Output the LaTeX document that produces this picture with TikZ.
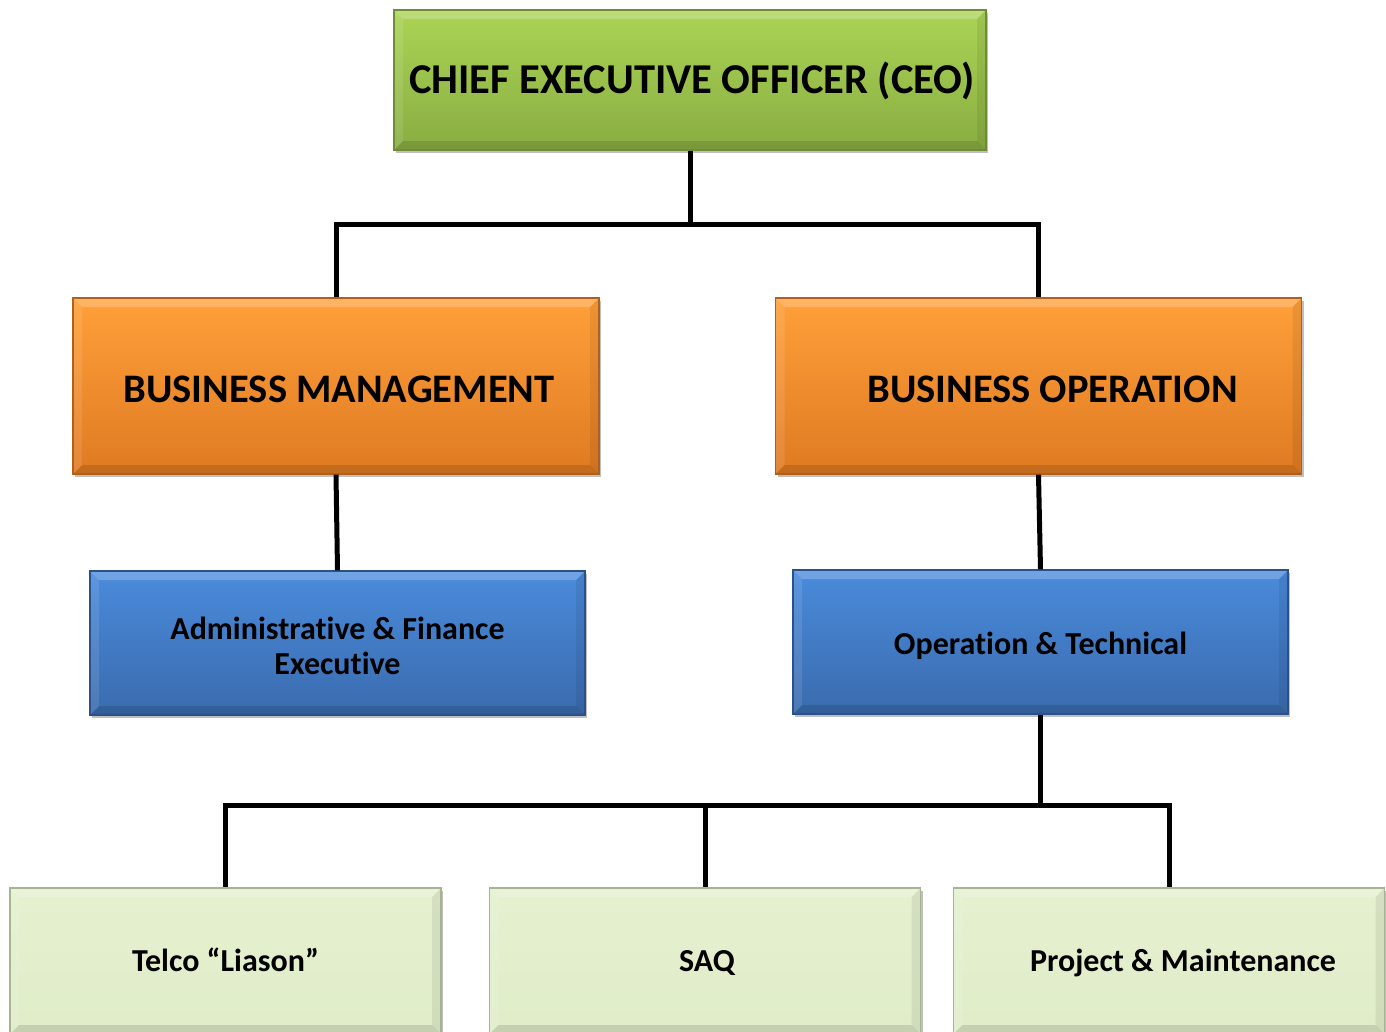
\documentclass[tikz,border=0pt]{standalone}
\usepackage{fontspec}
\setmainfont{Carlito}[Ligatures={NoCommon}]
\usetikzlibrary{shadows,calc}
\definecolor{greenT}{HTML}{ABD455}
\definecolor{greenB}{HTML}{89AD42}
\definecolor{greenD}{HTML}{6E8B36}
\definecolor{orangeT}{HTML}{FFA03A}
\definecolor{orangeB}{HTML}{DF7A22}
\definecolor{orangeD}{HTML}{B0601B}
\definecolor{blueT}{HTML}{4A8BDB}
\definecolor{blueB}{HTML}{3A6BAE}
\definecolor{blueD}{HTML}{2C5189}
\definecolor{lightT}{HTML}{E5F0D0}
\definecolor{lightB}{HTML}{E0EDC8}
\definecolor{lightD}{HTML}{A8B48F}
\tikzset{
  bevel/.style={path picture={
    \fill[white,opacity=0.22] (path picture bounding box.north west) -- (path picture bounding box.north east) -- ++(-9pt,-9pt) -- ($(path picture bounding box.north west)+(9pt,-9pt)$) -- cycle;
    \fill[white,opacity=0.10] (path picture bounding box.north west) -- (path picture bounding box.south west) -- ++(9pt,9pt) -- ($(path picture bounding box.north west)+(9pt,-9pt)$) -- cycle;
    \fill[black,opacity=0.12] (path picture bounding box.south west) -- (path picture bounding box.south east) -- ++(-9pt,9pt) -- ($(path picture bounding box.south west)+(9pt,9pt)$) -- cycle;
    \fill[black,opacity=0.07] (path picture bounding box.north east) -- (path picture bounding box.south east) -- ++(-9pt,9pt) -- ($(path picture bounding box.north east)+(-9pt,-9pt)$) -- cycle;
  }},
  orgbox/.style n args={3}{rectangle, inner sep=0pt, align=center, text=black,
    top color=#1, bottom color=#2, draw=#3, line width=1.2pt, bevel,
    drop shadow={shadow xshift=2pt, shadow yshift=-3pt, opacity=0.25, fill=black}},
  ceobox/.style={orgbox={greenT}{greenB}{greenD}, minimum width=592pt, minimum height=140pt,
    font=\fontsize{42.5}{50}\selectfont\bfseries, text height=36.4pt, text depth=9pt},
  mgrbox/.style={orgbox={orangeT}{orangeB}{orangeD}, minimum width=526pt, minimum height=176pt,
    font=\fontsize{40.5}{48}\selectfont\bfseries, text height=41pt, text depth=9pt},
  deptbox/.style={orgbox={blueT}{blueB}{blueD}, minimum width=495pt, minimum height=144pt,
    font=\fontsize{32}{35}\selectfont\bfseries},
  unitbox/.style={orgbox={lightT}{lightB}{lightD}, minimum width=431pt, minimum height=146pt,
    font=\fontsize{32}{38}\selectfont\bfseries, text height=27.6pt, text depth=7pt},
  link/.style={line width=5pt, black, line join=miter}
}
\begin{document}
\begin{tikzpicture}[x=1pt,y=-1pt]
\useasboundingbox (0,0) rectangle (1386,1031);
\node[ceobox] (ceo) at (690,80) {\hspace*{4pt}CHIEF EXECUTIVE OFFICER (CEO)};
\node[mgrbox] (bm) at (336,386) {\hspace*{6pt}BUSINESS MANAGEMENT};
\node[mgrbox] (bo) at (1038.5,386) {\hspace*{28pt}BUSINESS OPERATION};
\node[deptbox] (af) at (337.5,643) {\rule{0pt}{28pt}Administrative \& Finance\\Executive};
\node[deptbox, text height=31pt, text depth=6.4pt] (ot) at (1040.5,642) {Operation \& Technical};
\node[unitbox] (telco) at (225.5,961) {Telco “Liason”};
\node[unitbox] (saq) at (705,961) {\hspace*{4pt}SAQ};
\node[unitbox] (pm) at (1169,961) {\hspace*{28pt}Project \& Maintenance};
\coordinate (j1) at (690,224);
\coordinate (j2) at (1040.5,805);
\draw[link] (ceo.south) -- (j1);
\draw[link] (j1) -| (bm.north);
\draw[link] (j1) -| (bo.north);
\draw[link] (bm.south) -- (af.north);
\draw[link] (bo.south) -- (ot.north);
\draw[link] (ot.south) -- (j2);
\draw[link] (j2) -| (telco.north);
\draw[link] (j2) -| (saq.north);
\draw[link] (j2) -| (pm.north);
\end{tikzpicture}
\end{document}
